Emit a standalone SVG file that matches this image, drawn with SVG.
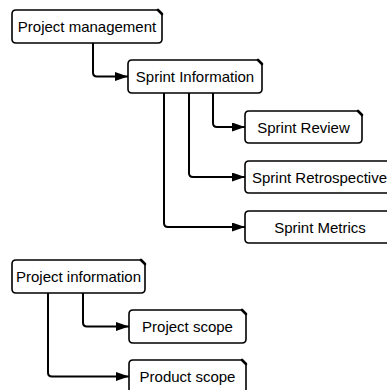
<svg xmlns="http://www.w3.org/2000/svg" width="387" height="390" viewBox="0 0 387 390">
  <style>
    .box { fill: #ffffff; stroke: #000000; stroke-width: 1.6; stroke-linejoin: round; }
    .ear { fill: none; stroke: #000000; stroke-width: 2.6; stroke-linecap: round; }
    .lbl { font-family: "Liberation Sans", Arial, sans-serif; font-size: 15px; fill: #000000; text-anchor: middle; }
    .conn { fill: none; stroke: #000000; stroke-width: 2; }
  </style>
  <defs>
    <marker id="arrow" markerUnits="userSpaceOnUse" markerWidth="14" markerHeight="10" refX="13" refY="4.5" orient="auto">
      <path d="M0,0 L13,4.5 L0,9 Z" fill="#000000"/>
    </marker>
  </defs>
  <rect width="387" height="390" fill="#ffffff"/>

  <!-- connectors -->
  <g id="connectors">
    <path class="conn" d="M93,43 V72.5 Q93,76.5 97,76.5 H128" marker-end="url(#arrow)"/>
    <path class="conn" d="M213,93 V123 Q213,127 217,127 H245" marker-end="url(#arrow)"/>
    <path class="conn" d="M189,93 V173 Q189,177 193,177 H245" marker-end="url(#arrow)"/>
    <path class="conn" d="M164,93 V223 Q164,227 168,227 H245" marker-end="url(#arrow)"/>
    <path class="conn" d="M83,293 V322.5 Q83,326.5 87,326.5 H129" marker-end="url(#arrow)"/>
    <path class="conn" d="M48,293 V372.5 Q48,376.5 52,376.5 H129" marker-end="url(#arrow)"/>
  </g>

  <!-- nodes: rounded boxes with a folded top-right corner -->
  <g id="project-management">
    <path class="box" d="M16,10 H158 L162,14 V39 Q162,43 158,43 H16 Q12,43 12,39 V14 Q12,10 16,10 Z"/>
    <path class="ear" d="M158,10 L162,14"/>
    <text class="lbl" x="87" y="32">Project management</text>
  </g>
  <g id="sprint-information">
    <path class="box" d="M132,60 H258 L262,64 V89 Q262,93 258,93 H132 Q128,93 128,89 V64 Q128,60 132,60 Z"/>
    <path class="ear" d="M258,60 L262,64"/>
    <text class="lbl" x="195" y="82">Sprint Information</text>
  </g>
  <g id="sprint-review">
    <path class="box" d="M249,111 H358 L362,115 V139 Q362,143 358,143 H249 Q245,143 245,139 V115 Q245,111 249,111 Z"/>
    <path class="ear" d="M358,111 L362,115"/>
    <text class="lbl" x="303.5" y="132.5">Sprint Review</text>
  </g>
  <g id="sprint-retrospective">
    <path class="box" d="M249,161 H390 L394,165 V189 Q394,193 390,193 H249 Q245,193 245,189 V165 Q245,161 249,161 Z"/>
    <text class="lbl" x="319.5" y="182.5">Sprint Retrospective</text>
  </g>
  <g id="sprint-metrics">
    <path class="box" d="M249,211 H390 L394,215 V239 Q394,243 390,243 H249 Q245,243 245,239 V215 Q245,211 249,211 Z"/>
    <text class="lbl" x="320" y="232.5">Sprint Metrics</text>
  </g>
  <g id="project-information">
    <path class="box" d="M16,260 H141 L145,264 V289 Q145,293 141,293 H16 Q12,293 12,289 V264 Q12,260 16,260 Z"/>
    <path class="ear" d="M141,260 L145,264"/>
    <text class="lbl" x="78.5" y="282">Project information</text>
  </g>
  <g id="project-scope">
    <path class="box" d="M133,310 H242 L246,314 V339 Q246,343 242,343 H133 Q129,343 129,339 V314 Q129,310 133,310 Z"/>
    <path class="ear" d="M242,310 L246,314"/>
    <text class="lbl" x="187.5" y="332">Project scope</text>
  </g>
  <g id="product-scope">
    <path class="box" d="M133,360 H242 L246,364 V389 Q246,393 242,393 H133 Q129,393 129,389 V364 Q129,360 133,360 Z"/>
    <path class="ear" d="M242,360 L246,364"/>
    <text class="lbl" x="187.5" y="382">Product scope</text>
  </g>
</svg>
